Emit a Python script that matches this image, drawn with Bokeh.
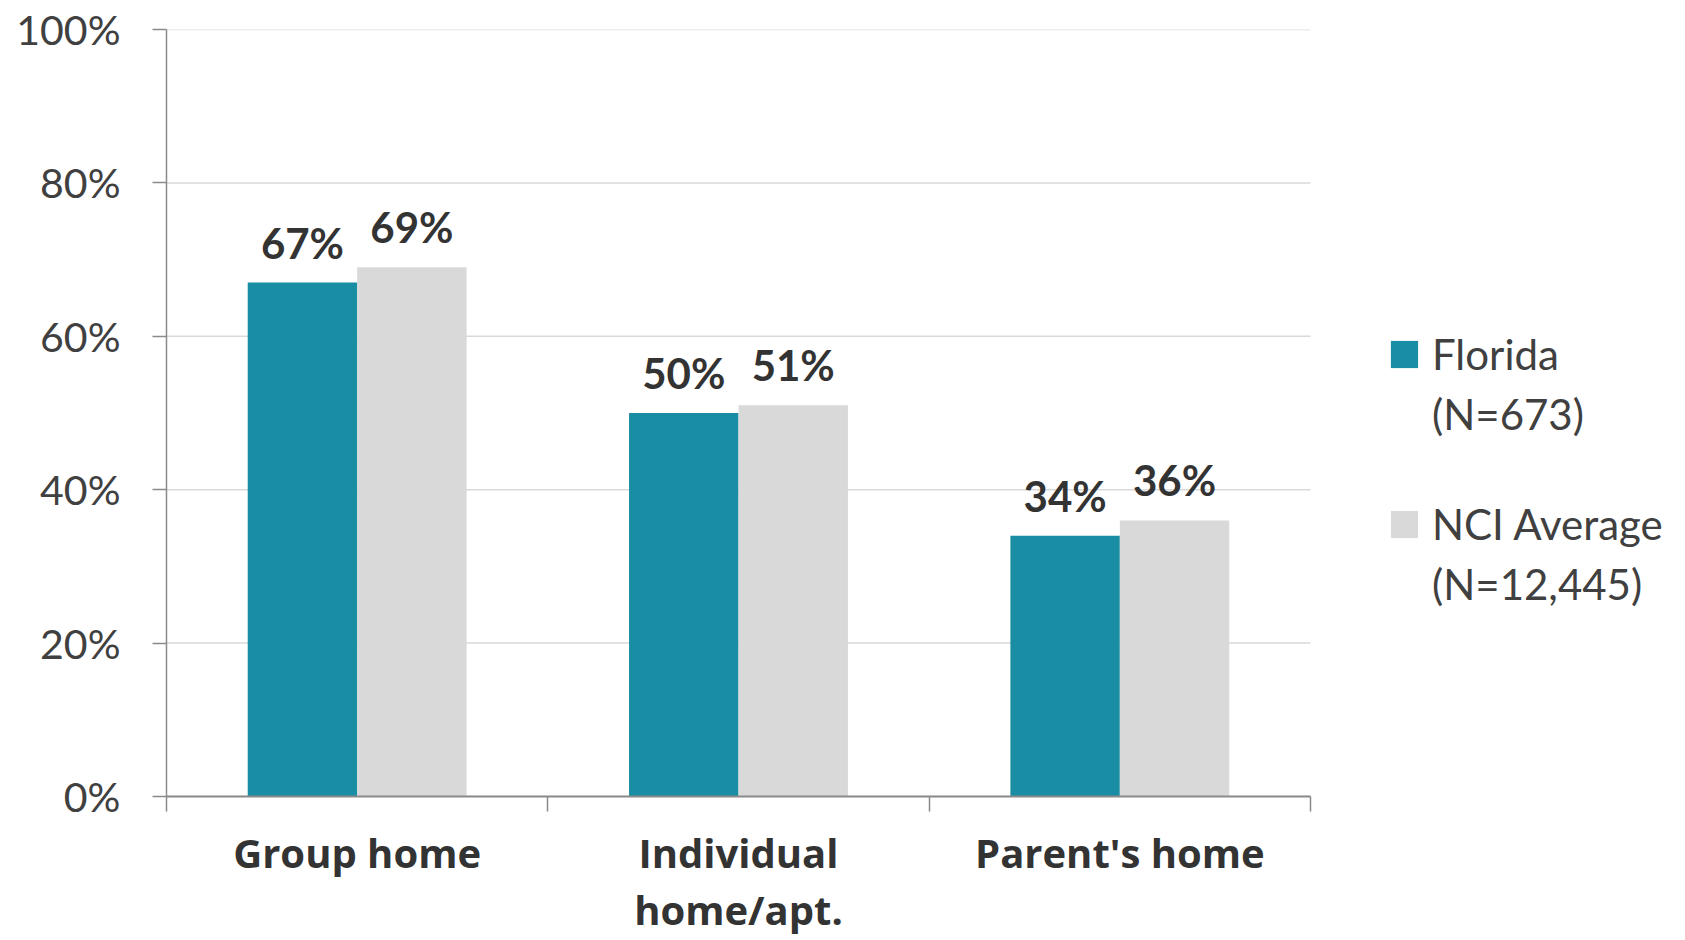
from bokeh.plotting import figure
from bokeh.models import FixedTicker, Legend, LegendItem, Range1d
from bokeh.core.properties import value
from bokeh.embed import file_html
from bokeh.resources import INLINE
import numpy as np

categories = ["Group home", "Individual\nhome/apt.", "Parent's home"]
florida = [67, 50, 34]
nci = [69, 51, 36]
series_names = ["Florida", "NCI Average"]
series_n = ["(N=673)", "(N=12,445)"]
y_ticks = [0, 20, 40, 60, 80, 100]
y_tick_labels = ["0%", "20%", "40%", "60%", "80%", "100%"]

FONT = "Lato"
CAT_FONT = "Open Sans"
TEAL = "#188da3"
GREY = "#d9d9d9"
TEXT = "#404040"
AXIS = "#8a8a8a"

W, H = 1669, 940
LEFT, TOP, BOTTOM = 166, 29, 142
PLOT_W = 1144          # pixel width of the category area
frame_w = W - LEFT
n = len(categories)
x_end = n * frame_w / PLOT_W   # extra room on the right holds the legend

p = figure(width=W, height=H, x_range=Range1d(0, x_end), y_range=Range1d(0, 100),
           output_backend="svg", toolbar_location=None,
           min_border_left=LEFT, min_border_top=TOP, min_border_right=0, min_border_bottom=BOTTOM)
p.outline_line_color = None
p.background_fill_color = "white"

# horizontal gridlines limited to the category area
p.segment(x0=[0] * len(y_ticks), x1=[n] * len(y_ticks), y0=y_ticks, y1=y_ticks,
          line_color=GREY, line_width=1.5)

x = np.arange(n) + 0.5
bw = 0.287
r1 = p.vbar(x=x - bw / 2, top=florida, width=bw, fill_color=TEAL, line_color=None)
r2 = p.vbar(x=x + bw / 2, top=nci, width=bw, fill_color=GREY, line_color=None)
blank = p.vbar(x=[], top=[], width=bw, fill_alpha=0, line_alpha=0)

for xs, vals in ((x - bw / 2, florida), (x + bw / 2, nci)):
    p.text(x=xs, y=vals, text=[f"{v}%" for v in vals], text_align="center",
           text_baseline="alphabetic", y_offset=-40, text_font=value(FONT), text_font_style="bold",
           text_font_size="42px", text_color="#333333")

# x axis
p.xaxis.bounds = (0, n)
p.xaxis.ticker = FixedTicker(ticks=list(x), minor_ticks=list(range(n + 1)))
p.xaxis.major_label_overrides = {float(xi): c for xi, c in zip(x, categories)}
p.xaxis.major_tick_in = 0
p.xaxis.major_tick_out = 0
p.xaxis.minor_tick_in = 0
p.xaxis.minor_tick_out = 15
p.xaxis.minor_tick_line_color = AXIS
p.xaxis.minor_tick_line_width = 1.5
p.xaxis.axis_line_color = AXIS
p.xaxis.axis_line_width = 2
p.xaxis.major_label_text_font = CAT_FONT
p.xaxis.major_label_text_font_style = "bold"
p.xaxis.major_label_text_font_size = "40px"
p.xaxis.major_label_text_color = "#333333"
p.xaxis.major_label_text_line_height = 1.05
p.xaxis.major_label_standoff = 13

# y axis
p.yaxis.ticker = FixedTicker(ticks=y_ticks)
p.yaxis.major_label_overrides = {t: l for t, l in zip(y_ticks, y_tick_labels)}
p.yaxis.major_tick_in = 0
p.yaxis.major_tick_out = 14
p.yaxis.minor_tick_line_color = None
p.yaxis.major_tick_line_color = AXIS
p.yaxis.major_tick_line_width = 1.5
p.yaxis.axis_line_color = AXIS
p.yaxis.axis_line_width = 1.5
p.yaxis.major_label_text_font = FONT
p.yaxis.major_label_text_font_size = "41px"
p.yaxis.major_label_text_color = TEXT
p.yaxis.major_label_standoff = 32

p.xgrid.visible = False
p.ygrid.visible = False


def make_legend(name, nlabel, rend, loc):
    lg = Legend(items=[LegendItem(label=name, renderers=[rend]),
                       LegendItem(label=nlabel, renderers=[blank])],
                location=loc, orientation="vertical")
    lg.border_line_color = None
    lg.background_fill_alpha = 0
    lg.padding = 0
    lg.margin = 0
    lg.glyph_width = 34
    lg.glyph_height = 34
    lg.label_standoff = 11
    lg.spacing = 10
    lg.label_text_font = FONT
    lg.label_text_font_size = "42px"
    lg.label_text_color = TEXT
    lg.label_text_line_height = 1.0
    lg.inactive_fill_alpha = 0
    return lg


p.add_layout(make_legend(series_names[0], series_n[0], r1, (1221, 357)), "center")
p.add_layout(make_legend(series_names[1], series_n[1], r2, (1221, 187)), "center")

open("out.html", "w").write(file_html(p, INLINE))
